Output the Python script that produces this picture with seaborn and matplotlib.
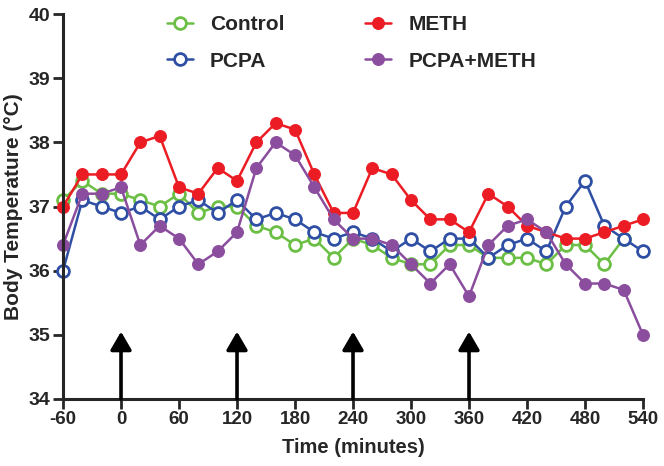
import numpy as np
import pandas as pd
import matplotlib
matplotlib.use("Agg")
import matplotlib.pyplot as plt
import seaborn as sns

# === Data ===
time = list(range(-60, 541, 20))

control = [37.1, 37.4, 37.2, 37.2, 37.1, 37.0, 37.2, 36.9, 37.0, 37.0,
           36.7, 36.6, 36.4, 36.5, 36.2, 36.5, 36.4, 36.2, 36.1, 36.1,
           36.4, 36.4, 36.2, 36.2, 36.2, 36.1, 36.4, 36.4, 36.1, 36.5, np.nan]
pcpa = [36.0, 37.1, 37.0, 36.9, 37.0, 36.8, 37.0, 37.1, 36.9, 37.1,
        36.8, 36.9, 36.8, 36.6, 36.5, 36.6, 36.5, 36.3, 36.5, 36.3,
        36.5, 36.5, 36.2, 36.4, 36.5, 36.3, 37.0, 37.4, 36.7, 36.5, 36.3]
meth = [37.0, 37.5, 37.5, 37.5, 38.0, 38.1, 37.3, 37.2, 37.6, 37.4,
        38.0, 38.3, 38.2, 37.5, 36.9, 36.9, 37.6, 37.5, 37.1, 36.8,
        36.8, 36.6, 37.2, 37.0, 36.7, 36.6, 36.5, 36.5, 36.6, 36.7, 36.8]
pcpa_meth = [36.4, 37.2, 37.2, 37.3, 36.4, 36.7, 36.5, 36.1, 36.3, 36.6,
             37.6, 38.0, 37.8, 37.3, 36.8, 36.5, 36.5, 36.4, 36.1, 35.8,
             36.1, 35.6, 36.4, 36.7, 36.8, 36.6, 36.1, 35.8, 35.8, 35.7, 35.0]

injections = [0, 120, 240, 360]
x_ticks = list(range(-60, 541, 60))
y_ticks = [34, 35, 36, 37, 38, 39, 40]

series = [
    ("Control", control, "#6cbf45", True),
    ("PCPA", pcpa, "#2e4fa3", True),
    ("METH", meth, "#ec1c24", False),
    ("PCPA+METH", pcpa_meth, "#8b4d9e", False),
]

sns.set_style("ticks")
plt.rcParams["font.family"] = ["Liberation Sans", "DejaVu Sans"]
plt.rcParams["font.weight"] = "bold"
plt.rcParams["axes.unicode_minus"] = False

fig = plt.figure(figsize=(6.64, 4.66), dpi=100)
ax = fig.add_axes([0.0949, 0.1438, 0.8735, 0.826])

for name, vals, color, hollow in series:
    sns.lineplot(x=time, y=vals, ax=ax, color=color, lw=1.8,
                 marker="o", markersize=8.5, markeredgewidth=2 if hollow else 0.8,
                 markeredgecolor=color,
                 markerfacecolor="white" if hollow else color,
                 label=name, clip_on=False)

# injection arrows
for t in injections:
    ax.annotate("", xy=(t, 35.05), xytext=(t, 34),
                arrowprops=dict(arrowstyle="-|>,head_width=0.32,head_length=0.55",
                                mutation_scale=20, lw=2.6, color="black",
                                shrinkA=0, shrinkB=0))

ax.set_xlim(-60, 540)
ax.set_ylim(34, 40)
ax.set_xticks(x_ticks)
ax.set_yticks(y_ticks)
ax.set_xlabel("Time (minutes)", fontsize=14.5, fontweight="bold", labelpad=7)
ax.set_ylabel("Body Temperature (\u00b0C)", fontsize=15, fontweight="bold", labelpad=4)
ax.tick_params(axis="both", width=2, length=7, pad=2)
ax.tick_params(axis="x", labelsize=13.5)
ax.tick_params(axis="y", labelsize=14)
for lab in ax.get_xticklabels() + ax.get_yticklabels():
    lab.set_fontweight("bold")
sns.despine(ax=ax)
for sp in ["left", "bottom"]:
    ax.spines[sp].set_linewidth(2.2)

ax.legend(loc="upper left", bbox_to_anchor=(0.2515, 0.968), bbox_transform=fig.transFigure,
          ncol=2, frameon=False, handlelength=1.25, columnspacing=3.9, labelspacing=0.85,
          handletextpad=0.8, borderpad=0, borderaxespad=0,
          prop={"weight": "bold", "size": 15})

fig.savefig("out.png", dpi=100)
